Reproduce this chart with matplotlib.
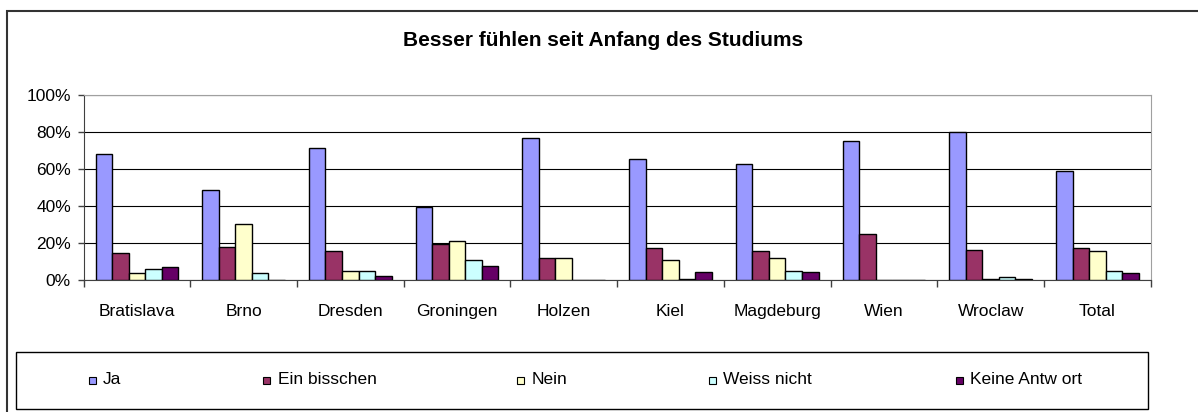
import matplotlib
matplotlib.use("Agg")
import matplotlib.pyplot as plt
import numpy as np
from matplotlib.patches import Rectangle
from matplotlib.ticker import PercentFormatter

plt.rcParams['font.family'] = ['Liberation Sans', 'DejaVu Sans']

# Daten (Prozent)
cities = ['Bratislava', 'Brno', 'Dresden', 'Groningen', 'Holzen',
          'Kiel', 'Magdeburg', 'Wien', 'Wroclaw', 'Total']
series_names = ['Ja', 'Ein bisschen', 'Nein', 'Weiss nicht', 'Keine Antw ort']
ja = [68, 48.4, 71.4, 39.6, 76.6, 65.5, 62.8, 74.8, 80, 58.8]
ein_bisschen = [14.4, 18, 15.5, 19.6, 12, 17.3, 15.5, 24.8, 16.2, 17.3]
nein = [3.6, 30, 5, 21.2, 12, 11, 12, 0, 0.6, 15.5]
weiss_nicht = [5.9, 3.6, 5, 11, 0, 0.6, 5, 0, 1.8, 5]
keine_antwort = [6.8, 0, 2.3, 7.6, 0, 4.1, 4.1, 0, 0.5, 3.6]

colors = ['#9999FF', '#993366', '#FFFFCC', '#CCFFFF', '#660066']
W, H = 1198, 412
FS = 12.5

fig = plt.figure(figsize=(W / 100, H / 100), dpi=100)
ax = fig.add_axes([83.5 / W, 1 - 280 / H, (1150.7 - 83.5) / W, (280 - 94.7) / H])

x = np.arange(len(cities))
bw = 0.155
all_series = [ja, ein_bisschen, nein, weiss_nicht, keine_antwort]
for i, (vals, col) in enumerate(zip(all_series, colors)):
    ax.bar(x + (i - 2) * bw, vals, width=bw, color=col, edgecolor='black',
           linewidth=1.0, zorder=3)

ax.set_xlim(-0.5, len(cities) - 0.5)
ax.set_ylim(0, 100)
ax.set_yticks(np.arange(0, 101, 20))
ax.yaxis.set_major_formatter(PercentFormatter(decimals=0))
ax.yaxis.grid(True, color='black', linewidth=0.8)
ax.set_axisbelow(True)

# Kategorien mittig, Striche an den Grenzen
ax.set_xticks(x)
ax.set_xticklabels(cities)
ax.set_xticks(np.arange(-0.5, len(cities)), minor=True)
ax.tick_params(axis='x', which='major', length=0, pad=17, labelsize=FS)
ax.tick_params(axis='x', which='minor', length=5, width=1, color='#404040')
ax.tick_params(axis='y', length=4, width=1, color='#404040', pad=5, labelsize=FS)

ax.spines['left'].set_color('#404040')
ax.spines['bottom'].set_color('#404040')
ax.spines['top'].set_color('#a0a0a0')
ax.spines['right'].set_color('#a0a0a0')

fig.text(603 / W, 1 - 41 / H, 'Besser fühlen seit Anfang des Studiums',
         ha='center', va='center', fontsize=15, fontweight='bold')

# Rahmen um das ganze Diagramm
fig.add_artist(Rectangle((6.5 / W, -0.1), 1.2, 1 - 11 / H + 0.1, transform=fig.transFigure,
                         fill=False, edgecolor='#333333', linewidth=1.5))

# Legende von Hand, wie in Excel
fig.add_artist(Rectangle((16 / W, 1 - 408.7 / H), (1147.7 - 16) / W, (408.7 - 352.3) / H,
                         transform=fig.transFigure, fill=False, edgecolor='black',
                         linewidth=1.0))
leg_x = [92, 266.7, 520.7, 712, 959]
leg_y = 380
for name, col, lx in zip(series_names, colors, leg_x):
    fig.add_artist(Rectangle(((lx - 3.5) / W, 1 - (leg_y + 3.5) / H), 7 / W, 7 / H,
                             transform=fig.transFigure, facecolor=col,
                             edgecolor='black', linewidth=0.8))
    fig.text((lx + 11) / W, 1 - leg_y / H, name, ha='left', va='center', fontsize=FS)

fig.savefig('out.png', dpi=100)
